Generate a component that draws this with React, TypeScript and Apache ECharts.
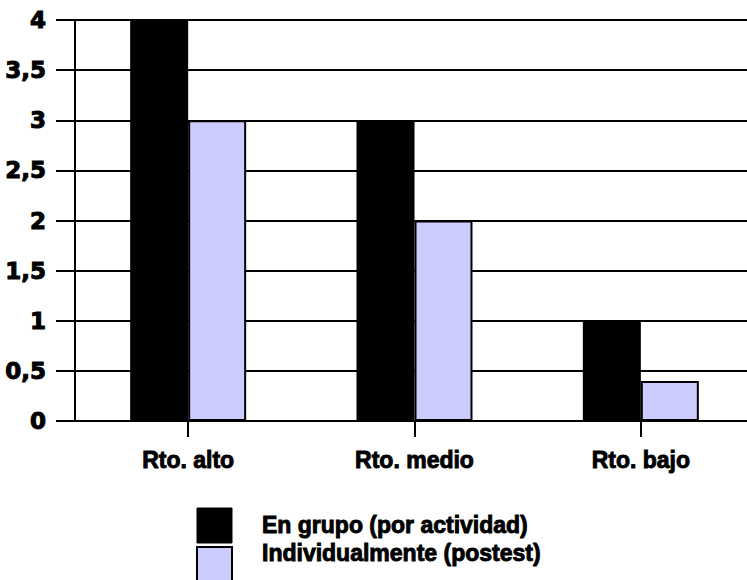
import React, { useEffect, useRef } from "react";
import * as echarts from "echarts";

const categories = ["Rto. alto", "Rto. medio", "Rto. bajo"];
const seriesNames = ["En grupo (por actividad)", "Individualmente (postest)"];
const grupoValues = [4, 3, 1];
const individualValues = [3, 2, 0.4];
const yTicks = { min: 0, max: 4, interval: 0.5 };

const BLACK = "#000000";
const LAVENDER = "#CCCCFF";

export default function App() {
  const ref = useRef<HTMLDivElement>(null);
  useEffect(() => {
    if (!ref.current) return;
    const chart = echarts.init(ref.current, null, { renderer: "svg" });
    const labelFont = "'Liberation Sans', Arial, sans-serif";
    chart.setOption({
      animation: false,
      backgroundColor: "#ffffff",
      grid: { left: 75, top: 20, width: 679, height: 401, containLabel: false },
      xAxis: {
        type: "category",
        data: categories,
        axisLine: { show: true, lineStyle: { color: BLACK, width: 2 } },
        axisTick: { show: true, alignWithLabel: true, length: 16, lineStyle: { color: BLACK, width: 2 } },
        axisLabel: {
          margin: 27,
          color: BLACK,
          fontFamily: labelFont,
          fontWeight: "bold",
          fontSize: 23,
          textBorderColor: BLACK,
          textBorderWidth: 0.9,
        },
        splitLine: { show: false },
      },
      yAxis: {
        type: "value",
        min: yTicks.min,
        max: yTicks.max,
        interval: yTicks.interval,
        axisLine: { show: true, lineStyle: { color: BLACK, width: 2 } },
        axisTick: { show: true, length: 19, lineStyle: { color: BLACK, width: 2 } },
        axisLabel: {
          margin: 29,
          color: BLACK,
          fontFamily: "'DejaVu Sans', sans-serif",
          fontWeight: "bold",
          fontSize: 23,
          textBorderColor: BLACK,
          textBorderWidth: 1,
          formatter: (v: number) => String(v).replace(".", ","),
        },
        splitLine: { show: true, lineStyle: { color: BLACK, width: 2 } },
      },
      series: [
        {
          name: seriesNames[0],
          type: "bar",
          data: grupoValues,
          barWidth: 58,
          barGap: "0%",
          itemStyle: { color: BLACK, borderColor: BLACK, borderWidth: 1.5 },
        },
        {
          name: seriesNames[1],
          type: "bar",
          data: individualValues,
          barWidth: 58,
          barGap: "0%",
          itemStyle: { color: LAVENDER, borderColor: BLACK, borderWidth: 2 },
        },
      ],
      graphic: [
        { type: "rect", shape: { x: 197, y: 508, width: 35, height: 35 }, style: { fill: BLACK, stroke: BLACK, lineWidth: 1 } },
        { type: "rect", shape: { x: 197, y: 547, width: 35, height: 35 }, style: { fill: LAVENDER, stroke: BLACK, lineWidth: 2 } },
        {
          type: "text",
          x: 262,
          y: 525,
          style: {
            text: seriesNames[0],
            fill: BLACK,
            stroke: BLACK,
            lineWidth: 0.9,
            font: "bold 23px 'Liberation Sans', Arial, sans-serif",
            textVerticalAlign: "middle",
            verticalAlign: "middle",
          },
        },
        {
          type: "text",
          x: 262,
          y: 553,
          style: {
            text: seriesNames[1],
            fill: BLACK,
            stroke: BLACK,
            lineWidth: 0.9,
            font: "bold 23px 'Liberation Sans', Arial, sans-serif",
            textVerticalAlign: "middle",
            verticalAlign: "middle",
          },
        },
      ],
    });
    return () => chart.dispose();
  }, []);
  return (
    <div style={{ position: "fixed", left: 0, top: 0, width: 747, height: 580, overflow: "hidden", background: "#fff" }}>
      <div ref={ref} style={{ width: 770, height: 580 }} />
    </div>
  );
}
